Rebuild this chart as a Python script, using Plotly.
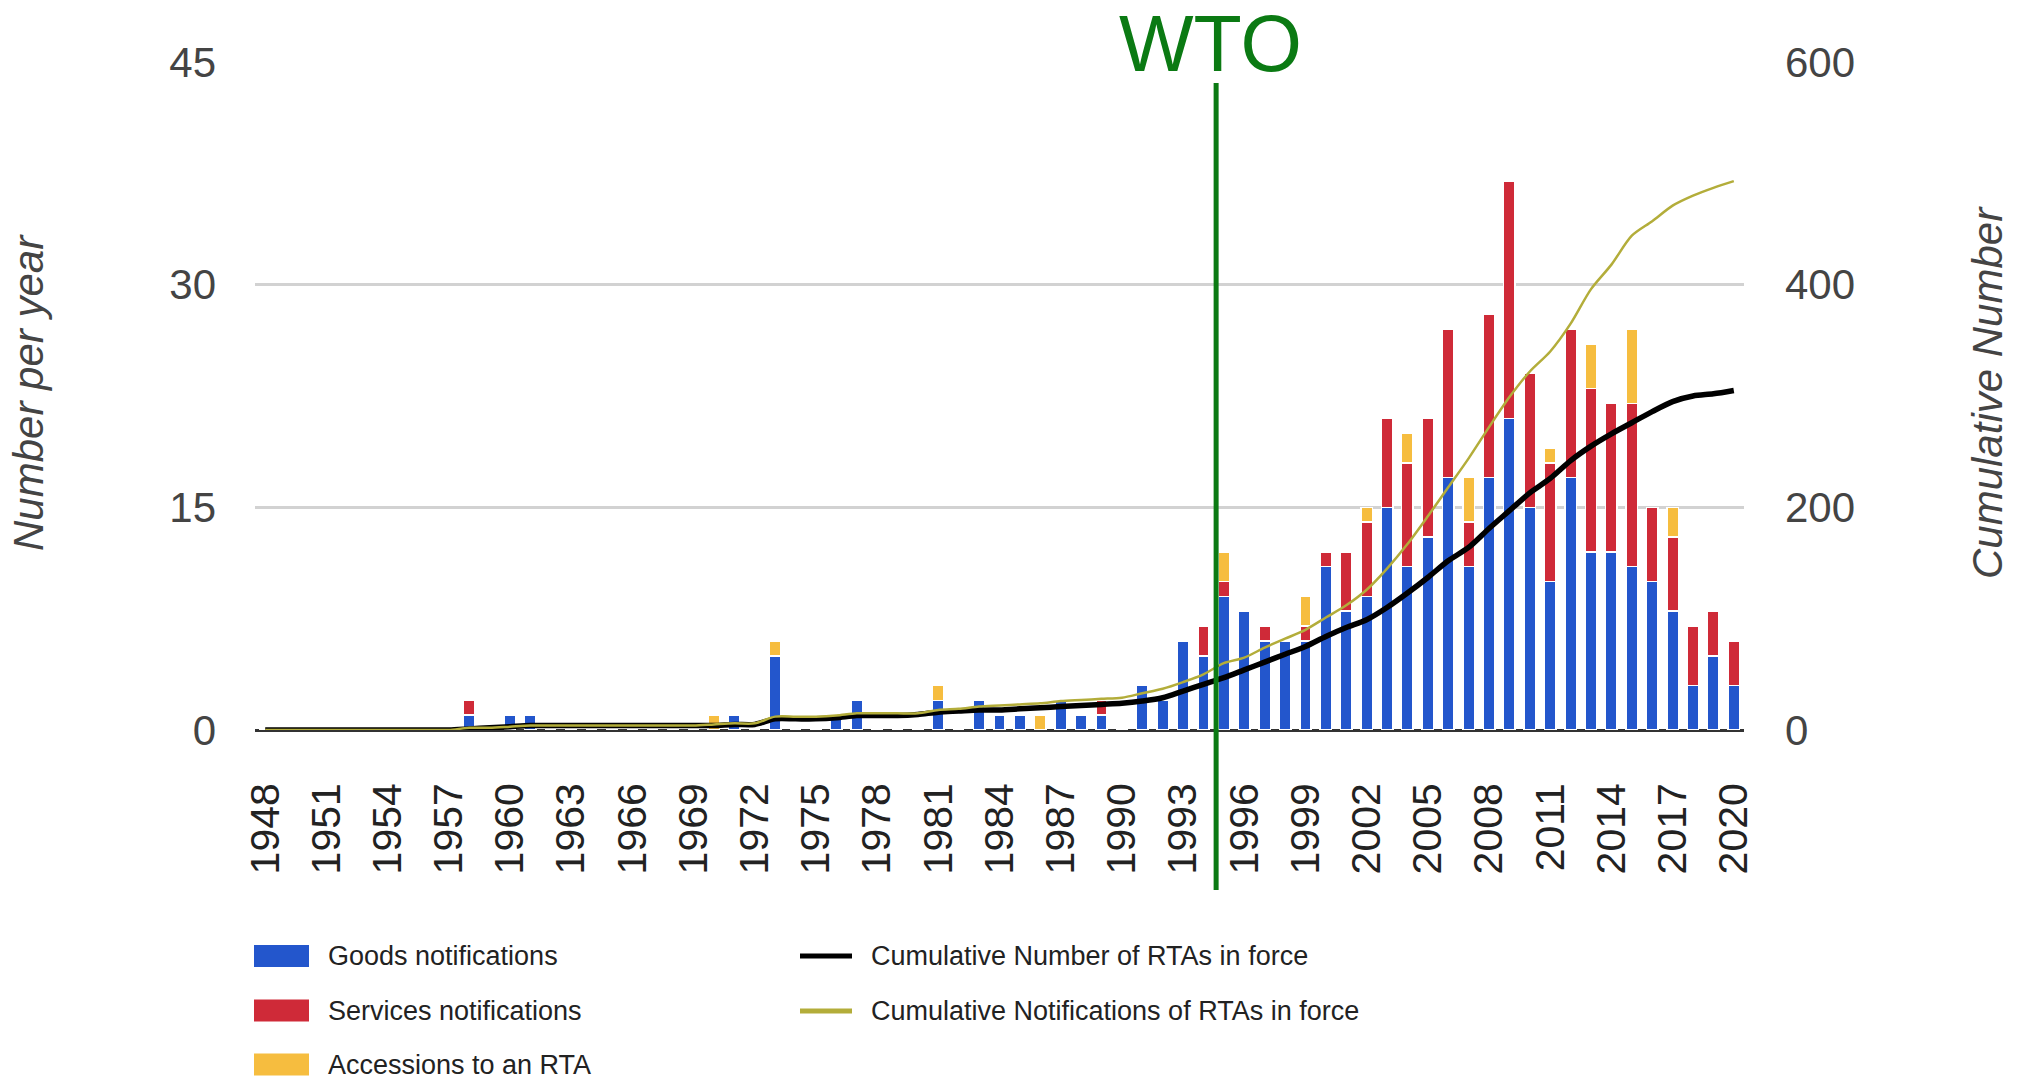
import plotly.graph_objects as go

# ---------------- data ----------------
years = list(range(1948, 2021))

goods = [0, 0, 0, 0, 0, 0, 0, 0, 0, 0,          # 1948-1957
         1, 0, 1, 1, 0, 0, 0, 0, 0, 0,          # 1958-1967
         0, 0, 0, 1, 0, 5, 0, 0, 1, 2,          # 1968-1977
         0, 0, 0, 2, 0, 2, 1, 1, 0, 2,          # 1978-1987
         1, 1, 0, 3, 2, 6, 5, 9, 8, 6,          # 1988-1997
         6, 6, 11, 8, 9, 15, 11, 13, 17, 11,    # 1998-2007
         17, 21, 15, 10, 17, 12, 12, 11, 10, 8, # 2008-2017
         3, 5, 3]                               # 2018-2020

services = [0, 0, 0, 0, 0, 0, 0, 0, 0, 0,
            1, 0, 0, 0, 0, 0, 0, 0, 0, 0,
            0, 0, 0, 0, 0, 0, 0, 0, 0, 0,
            0, 0, 0, 0, 0, 0, 0, 0, 0, 0,
            0, 1, 0, 0, 0, 0, 2, 1, 0, 1,
            0, 1, 1, 4, 5, 6, 7, 8, 10, 3,
            11, 16, 9, 8, 10, 11, 10, 11, 5, 5,
            4, 3, 3]

accessions = [0, 0, 0, 0, 0, 0, 0, 0, 0, 0,
              0, 0, 0, 0, 0, 0, 0, 0, 0, 0,
              0, 0, 1, 0, 0, 1, 0, 0, 0, 0,
              0, 0, 0, 1, 0, 0, 0, 0, 1, 0,
              0, 0, 0, 0, 0, 0, 0, 2, 0, 0,
              0, 2, 0, 0, 1, 0, 2, 0, 0, 3,
              0, 0, 0, 1, 0, 3, 0, 5, 0, 2,
              0, 0, 0]

cum_rtas = [0, 0, 0, 0, 0, 0, 0, 0, 0, 0,
            1, 2, 3, 4, 4, 4, 4, 4, 4, 4,
            4, 4, 4, 5, 5, 10, 10, 10, 11, 13,
            13, 13, 14, 16, 17, 18, 18, 19, 20, 21,
            22, 23, 24, 26, 29, 35, 41, 47, 54, 61,
            68, 75, 84, 92, 99, 110, 123, 137, 152, 164,
            181, 197, 213, 226, 242, 255, 266, 276, 286, 295,
            300, 302, 305]

cum_notif = [0, 0, 0, 0, 0, 0, 0, 0, 0, 0,
             2, 2, 3, 4, 4, 4, 4, 4, 4, 4,
             4, 4, 5, 6, 6, 12, 12, 12, 13, 15,
             15, 15, 15, 18, 19, 21, 22, 23, 24, 26,
             27, 28, 29, 33, 37, 43, 50, 60, 65, 74,
             82, 90, 101, 112, 126, 145, 167, 192, 218, 244,
             272, 299, 322, 340, 365, 396, 418, 444, 457, 471,
             480, 487, 493]

tick_years = years[::3]
tick_labels = [str(y) for y in tick_years]
left_ticks = [0, 15, 30, 45]
right_ticks = [0, 200, 400, 600]
WTO_YEAR = 1994.62

# ---------------- styling ----------------
BLUE = "#2356cc"
RED = "#cf2a38"
YELLOW = "#f6bd3f"
OLIVE = "#b3ad3a"
GREEN = "#0b7a13"
FONT = "Liberation Sans"

W, H = 2023, 1080
L, R, T, B = 255, 279, 62, 350
PW, PH = W - L - R, H - T - B
X0, X1 = years[0] - 0.5, years[-1] + 0.5


def px_x(px):
    return (px - L) / PW


def px_y(py):
    return (H - B - py) / PH


fig = go.Figure()

bar_line = dict(color="white", width=1.5)
fig.add_trace(go.Bar(x=years, y=goods, name="Goods notifications",
                     marker=dict(color=BLUE, line=bar_line), showlegend=False))
fig.add_trace(go.Bar(x=years, y=services, name="Services notifications",
                     marker=dict(color=RED, line=bar_line), showlegend=False))
fig.add_trace(go.Bar(x=years, y=accessions, name="Accessions to an RTA",
                     marker=dict(color=YELLOW, line=bar_line), showlegend=False))
fig.add_trace(go.Scatter(x=years, y=cum_rtas, name="Cumulative Number of RTAs in force",
                         mode="lines", yaxis="y2",
                         line=dict(color="black", width=5.5, shape="spline", smoothing=0.8),
                         showlegend=False))
fig.add_trace(go.Scatter(x=years, y=cum_notif, name="Cumulative Notifications of RTAs in force",
                         mode="lines", yaxis="y2",
                         line=dict(color=OLIVE, width=2.5, shape="spline", smoothing=0.8),
                         showlegend=False))

shapes = []
annotations = []

# WTO line
wto_px = (WTO_YEAR - X0) / (X1 - X0)
shapes.append(dict(type="line", xref="paper", yref="paper",
                   x0=wto_px, x1=wto_px, y0=px_y(890), y1=px_y(83),
                   line=dict(color=GREEN, width=5), layer="above"))
annotations.append(dict(text="WTO", xref="paper", yref="paper",
                        x=wto_px, y=px_y(43.5), xshift=-6,
                        xanchor="center", yanchor="middle", showarrow=False,
                        font=dict(family=FONT, size=79, color=GREEN)))

# axis titles
annotations.append(dict(text="Number per year", xref="paper", yref="paper",
                        x=px_x(28), y=px_y(393), textangle=-90, showarrow=False,
                        xanchor="center", yanchor="middle",
                        font=dict(family=FONT, size=42, color="#444", style="italic")))
annotations.append(dict(text="Cumulative Number", xref="paper", yref="paper",
                        x=px_x(1987), y=px_y(393), textangle=-90, showarrow=False,
                        xanchor="center", yanchor="middle",
                        font=dict(family=FONT, size=42, color="#444", style="italic")))

# custom legend
leg_font = dict(family=FONT, size=27, color="#222")
bar_items = [("Goods notifications", BLUE, 956),
             ("Services notifications", RED, 1010.5),
             ("Accessions to an RTA", YELLOW, 1064.5)]
for label, col, yc in bar_items:
    shapes.append(dict(type="rect", xref="paper", yref="paper",
                       x0=px_x(254), x1=px_x(309), y0=px_y(yc + 11), y1=px_y(yc - 11),
                       fillcolor=col, line=dict(width=0)))
    annotations.append(dict(text=label, xref="paper", yref="paper",
                            x=px_x(326), y=px_y(yc), xanchor="left", yanchor="middle",
                            showarrow=False, font=leg_font))
line_items = [("Cumulative Number of RTAs in force", "black", 956),
              ("Cumulative Notifications of RTAs in force", OLIVE, 1011)]
for label, col, yc in line_items:
    shapes.append(dict(type="line", xref="paper", yref="paper",
                       x0=px_x(800), x1=px_x(852), y0=px_y(yc), y1=px_y(yc),
                       line=dict(color=col, width=5)))
    annotations.append(dict(text=label, xref="paper", yref="paper",
                            x=px_x(869), y=px_y(yc), xanchor="left", yanchor="middle",
                            showarrow=False, font=leg_font))

fig.update_layout(
    width=W, height=H, autosize=False,
    margin=dict(l=L, r=R, t=T, b=B, pad=0),
    paper_bgcolor="white", plot_bgcolor="white",
    barmode="stack", bargap=0.44,
    showlegend=False,
    font=dict(family=FONT),
    xaxis=dict(range=[X0, X1], tickmode="array", tickvals=tick_years, ticktext=tick_labels,
               tickangle=-90, ticks="", showgrid=False, zeroline=False, showline=False,
               tickfont=dict(family=FONT, size=41, color="#222"), ticklabelstandoff=44),
    yaxis=dict(range=[0, 45], tickmode="array", tickvals=left_ticks, ticks="",
               showgrid=True, gridcolor="#d2d2d2", gridwidth=3,
               zeroline=True, zerolinecolor="#333", zerolinewidth=3, showline=False,
               tickfont=dict(family=FONT, size=42, color="#444"), ticklabelstandoff=38),
    yaxis2=dict(range=[0, 600], tickmode="array", tickvals=right_ticks, ticks="",
                overlaying="y", side="right", showgrid=False, zeroline=False, showline=False,
                tickfont=dict(family=FONT, size=42, color="#444"), ticklabelstandoff=40),
    shapes=shapes, annotations=annotations,
)

fig.write_html("out.html",
               config={"displayModeBar": False},
               post_script="document.body.style.margin='0';document.body.style.overflow='hidden';")
